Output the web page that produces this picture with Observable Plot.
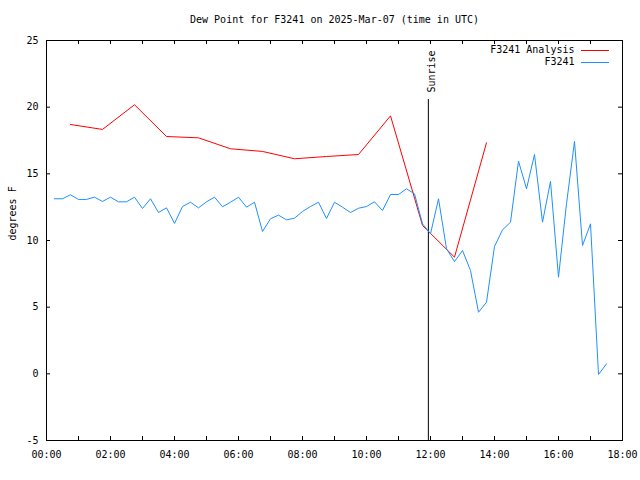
<!DOCTYPE html>
<html><head><meta charset="utf-8">
<script src="https://cdn.jsdelivr.net/npm/d3@7"></script>
<script src="https://cdn.jsdelivr.net/npm/@observablehq/plot@0.6"></script>
<style>body{margin:0;background:#fff} svg{display:block}</style>
</head><body><div id="chart"></div>
<script>
const title = "Dew Point for F3241 on 2025-Mar-07 (time in UTC)";
const yLabel = "degrees F";
const analysisName = "F3241 Analysis";
const stationName = "F3241";
const sunriseLabel = "Sunrise";
const sunriseTime = "11:56";

const analysisTimes = ["00:45","01:45","02:45","03:45","04:45","05:45","06:45","07:45","08:45","09:45","10:45","11:45","12:45","13:45"];
const analysisValues = [18.7,18.33,20.18,17.8,17.7,16.88,16.68,16.13,16.3,16.45,19.35,11.13,8.75,17.33];

const stationTimes = ["00:15","00:30","00:45","01:00","01:15","01:30","01:45","02:00","02:15","02:30","02:45","03:00","03:15","03:30","03:45","04:00","04:15","04:30","04:45","05:00","05:15","05:30","05:45","06:00","06:15","06:30","06:45","07:00","07:15","07:30","07:45","08:00","08:15","08:30","08:45","09:00","09:15","09:30","09:45","10:00","10:15","10:30","10:45","11:00","11:15","11:30","11:45","12:00","12:15","12:30","12:45","13:00","13:15","13:30","13:45","14:00","14:15","14:30","14:45","15:00","15:15","15:30","15:45","16:00","16:15","16:30","16:45","17:00","17:15","17:30"];
const stationValues = [13.13,13.13,13.43,13.08,13.08,13.25,12.93,13.25,12.9,12.9,13.25,12.4,13.13,12.1,12.45,11.28,12.55,12.87,12.45,12.9,13.25,12.53,12.87,13.25,12.5,12.87,10.68,11.63,11.9,11.55,11.67,12.18,12.55,12.87,11.65,12.87,12.5,12.1,12.42,12.55,12.9,12.25,13.45,13.45,13.88,13.5,11.25,10.5,13.13,9.38,8.42,9.25,7.75,4.62,5.37,9.55,10.8,11.37,15.95,13.88,16.45,11.37,14.43,7.25,12.75,17.43,9.62,11.25,-0.05,0.75];

const xTickHours = [0,1,2,3,4,5,6,7,8,9,10,11,12,13,14,15,16,17,18];
const xLabelHours = [0,2,4,6,8,10,12,14,16,18];
const yTicks = [-5,0,5,10,15,20,25];

const toHours = s => { const [h, m] = s.split(":").map(Number); return h + m / 60; };
const fmt = h => String(h).padStart(2, "0") + ":00";

const analysis = analysisTimes.map((t, i) => ({h: toHours(t), v: analysisValues[i]}));
const station = stationTimes.map((t, i) => ({h: toHours(t), v: stationValues[i]}));
const sunriseH = toHours(sunriseTime);

const width = 640, height = 480;
const mL = 46, mR = 18, mT = 40, mB = 40;
const W = width - mL - mR, H = height - mT - mB;
const tick = 4;
const red = "#ff0000", blue = "#1e90ff";

const plot = Plot.plot({
  width, height,
  marginLeft: mL, marginRight: mR, marginTop: mT, marginBottom: mB,
  style: {fontFamily: "'DejaVu Sans Mono', monospace", fontSize: "10px", color: "black", background: "white"},
  x: {type: "linear", domain: [0, 18]},
  y: {domain: [-5, 25]},
  marks: [
    Plot.axisY(yTicks, {tickSize: 0, tickPadding: 8, tickFormat: d => String(d), label: null}),
    Plot.axisX(xLabelHours, {tickSize: 0, tickPadding: 10, tickFormat: fmt, label: null}),
    Plot.tickY(yTicks, {y: d => d, insetRight: W - tick, stroke: "black"}),
    Plot.tickY(yTicks, {y: d => d, insetLeft: W - tick, stroke: "black"}),
    Plot.tickX(xTickHours, {x: d => d, insetTop: H - tick, stroke: "black"}),
    Plot.tickX(xTickHours, {x: d => d, insetBottom: H - tick, stroke: "black"}),
    Plot.ruleX([sunriseH], {x: d => d, insetTop: 59, stroke: "black"}),
    Plot.text([sunriseLabel], {x: () => sunriseH, frameAnchor: "top", dy: 52, rotate: -90, textAnchor: "start"}),
    Plot.line(analysis, {x: "h", y: "v", stroke: red, strokeWidth: 1}),
    Plot.line(station, {x: "h", y: "v", stroke: blue, strokeWidth: 1}),
    Plot.frame({stroke: "black"}),
    Plot.text([title], {frameAnchor: "top", dy: -25}),
    Plot.text([yLabel], {frameAnchor: "left", dx: -34, rotate: -90}),
    Plot.text([analysisName], {frameAnchor: "top-right", dx: -48, dy: 5, textAnchor: "end"}),
    Plot.text([stationName], {frameAnchor: "top-right", dx: -48, dy: 17, textAnchor: "end"})
  ]
});

// legend line samples
const svg = d3.select(plot);
const right = width - mR;
[[red, mT + 10], [blue, mT + 22]].forEach(([c, y]) => {
  svg.append("line").attr("x1", right - 41).attr("x2", right - 13)
    .attr("y1", y + 0.5).attr("y2", y + 0.5).attr("stroke", c).attr("stroke-width", 1);
});

document.getElementById("chart").append(plot);
</script>
</body></html>
